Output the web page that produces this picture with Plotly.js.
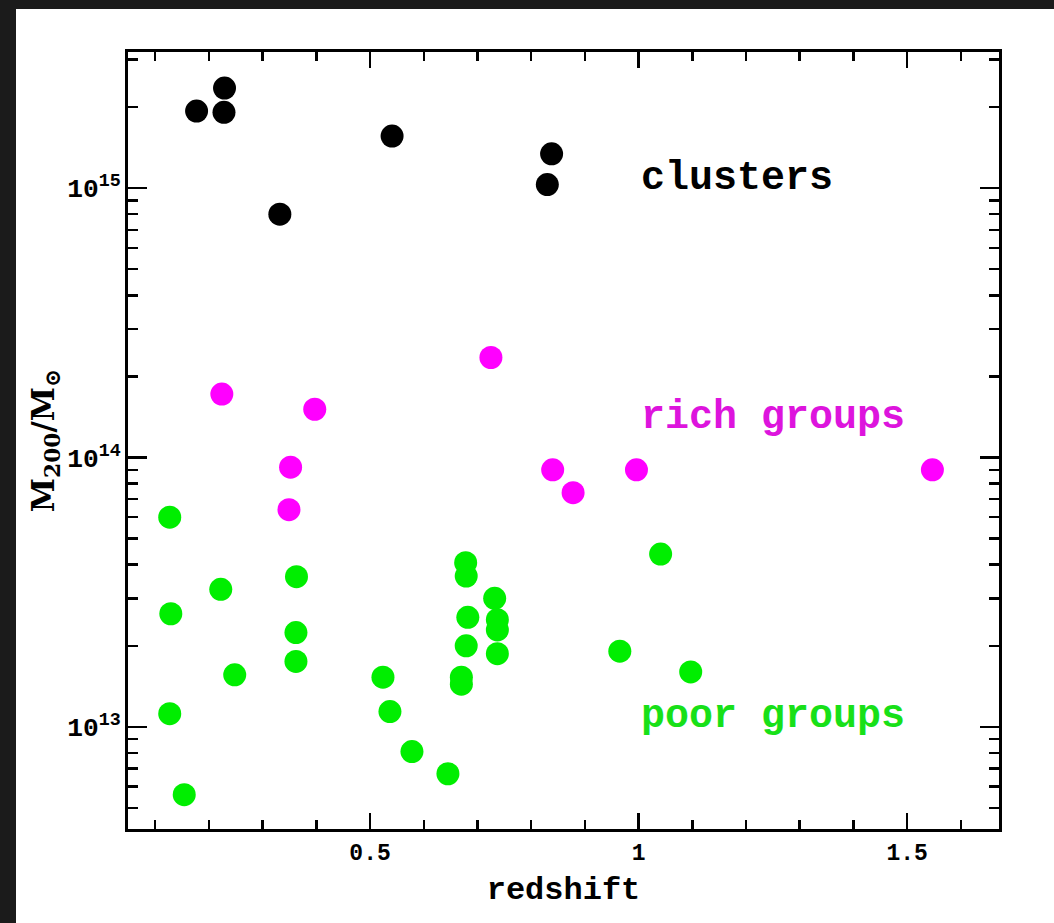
<!DOCTYPE html>
<html>
<head>
<meta charset="utf-8">
<script src="https://cdn.plot.ly/plotly-3.0.1.min.js"></script>
<style>
  html, body { margin: 0; padding: 0; background: #1b1b1b; width: 1054px; height: 923px; overflow: hidden; }
  #chart { position: absolute; left: 16px; top: 9px; width: 1038px; height: 914px; background: #fff; }
</style>
</head>
<body>
<div id="chart"></div>
<script>
// Halo mass M200 (solar masses) against redshift, split by system class
const clusterZ    = [0.177, 0.228, 0.229, 0.332, 0.541, 0.838, 0.830];
const clusterMass = [1.93e15, 1.91e15, 2.35e15, 8.0e14, 1.56e15, 1.34e15, 1.03e15];

const richZ    = [0.224, 0.397, 0.352, 0.349, 0.725, 0.840, 0.878, 0.996, 1.547];
const richMass = [1.72e14, 1.51e14, 9.2e13, 6.4e13, 2.35e14, 9.0e13, 7.4e13, 9.0e13, 9.0e13];

const poorZ = [0.127, 0.129, 0.222, 0.363, 0.362, 0.362, 0.248, 0.127, 0.154,
               0.524, 0.537, 0.578, 0.645, 0.678, 0.679, 0.732, 0.682, 0.737,
               0.737, 0.679, 0.737, 0.670, 0.670, 0.965, 1.097, 1.041];
const poorMass = [6.0e13, 2.63e13, 3.24e13, 3.61e13, 2.24e13, 1.75e13, 1.56e13, 1.12e13, 5.6e12,
                  1.53e13, 1.14e13, 8.1e12, 6.7e12, 4.07e13, 3.63e13, 3.0e13, 2.55e13, 2.5e13,
                  2.29e13, 2.0e13, 1.87e13, 1.53e13, 1.44e13, 1.91e13, 1.60e13, 4.38e13];

const groupLabels = ['clusters', 'rich groups', 'poor groups'];

const BLACK = '#000000', MAGENTA = '#ff00ff', GREEN = '#00ee00';

function series(x, y, color) {
  return {
    x: x, y: y, type: 'scatter', mode: 'markers', showlegend: false,
    marker: { color: color, size: 23, line: { width: 0 } },
    hoverinfo: 'x+y'
  };
}

const data = [
  series(poorZ, poorMass, GREEN),
  series(richZ, richMass, MAGENTA),
  series(clusterZ, clusterMass, BLACK)
];

const MONO = 'Liberation Mono, Courier New, monospace';
const labelFont = { family: MONO, size: 40, weight: 'bold' };

function groupLabel(text, y, color) {
  return {
    text: text, x: 1.0, y: y, xref: 'x', yref: 'y',
    xanchor: 'left', yanchor: 'middle', showarrow: false,
    font: Object.assign({ color: color }, labelFont)
  };
}

const layout = {
  width: 1038, height: 914,
  margin: { l: 112, r: 55, t: 43, b: 94 },
  paper_bgcolor: '#ffffff', plot_bgcolor: '#ffffff',
  xaxis: {
    range: [0.0493, 1.671],
    automargin: true,
    showgrid: false, zeroline: false,
    showline: true, linecolor: '#000', linewidth: 3, mirror: 'ticks',
    ticks: 'inside', ticklen: 16, tickwidth: 2.5, tickcolor: '#000',
    tickvals: [0.5, 1, 1.5], ticktext: ['0.5', '1', '1.5'],
    tickfont: { family: MONO, size: 23, weight: 'bold', color: '#000' },
    minor: { ticks: 'inside', ticklen: 9, tickwidth: 2.5, tickcolor: '#000', tick0: 0, dtick: 0.1, showgrid: false },
    title: { text: 'redshift', standoff: 12, font: { family: MONO, size: 32, weight: 'bold', color: '#000' } }
  },
  yaxis: {
    type: 'log',
    range: [12.621, 15.505],
    showgrid: false, zeroline: false,
    showline: true, linecolor: '#000', linewidth: 3, mirror: 'ticks',
    ticks: 'inside', ticklen: 19, tickwidth: 2.5, tickcolor: '#000',
    dtick: 1, exponentformat: 'power',
    tickfont: { family: MONO, size: 21, weight: 'bold', color: '#000' },
    minor: { ticks: 'inside', ticklen: 10, tickwidth: 2.5, tickcolor: '#000', dtick: 'D1', showgrid: false },
    title: { text: 'M<sub>200</sub>/M<sub>\u2299</sub>', font: { family: 'DejaVu Serif, serif', size: 31, weight: 'bold', color: '#000' } }
  },
  annotations: [
    groupLabel(groupLabels[0], 15.037, '#000000'),
    groupLabel(groupLabels[1], 14.147, '#dd14dd'),
    groupLabel(groupLabels[2], 13.037, '#18e018')
  ]
};

Plotly.newPlot('chart', data, layout, { displayModeBar: false, staticPlot: true });
</script>
</body>
</html>
